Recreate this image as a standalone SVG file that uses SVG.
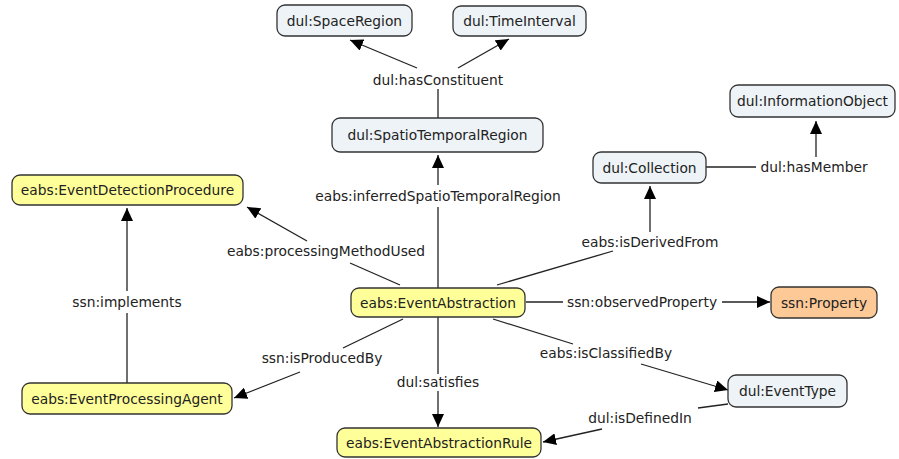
<svg xmlns="http://www.w3.org/2000/svg" width="899" height="459" viewBox="0 0 899 459">
  <style>
    text { font-family: "DejaVu Sans", Verdana, sans-serif; font-size: 13.8px; fill: #222; text-anchor: middle; dominant-baseline: central; }
    .node rect { stroke: #333; stroke-width: 1.3; }
    .eabs rect { fill: #ffff99; }
    .dul rect { fill: #edf3f6; }
    .prop rect { fill: #fdc997; }
    .edges line { stroke: #222; stroke-width: 1.3; }
    .edges line.arrow { marker-end: url(#head); }
  </style>
  <defs>
    <marker id="head" markerUnits="userSpaceOnUse" markerWidth="14" markerHeight="12" refX="13" refY="6" orient="auto">
      <path d="M0,0 L13,6 L0,12 Z" fill="#000"/>
    </marker>
  </defs>
  <rect width="899" height="459" fill="#ffffff"/>

  <!-- connectors and their labels -->
  <g id="connectors" class="edges">
    <!-- dul:hasConstituent -->
    <line x1="417" y1="68" x2="350" y2="40" class="arrow"/>
    <line x1="458" y1="68" x2="509" y2="39" class="arrow"/>
    <line x1="438" y1="89" x2="438" y2="118"/>
    <text x="438" y="80">dul:hasConstituent</text>
    <!-- eabs:inferredSpatioTemporalRegion -->
    <line x1="438" y1="288" x2="438" y2="207"/>
    <line x1="438" y1="185" x2="438" y2="155" class="arrow"/>
    <text x="438" y="196">eabs:inferredSpatioTemporalRegion</text>
    <!-- eabs:isDerivedFrom -->
    <line x1="497" y1="285" x2="613" y2="251"/>
    <line x1="650" y1="232" x2="650" y2="186" class="arrow"/>
    <text x="650" y="242">eabs:isDerivedFrom</text>
    <!-- dul:hasMember -->
    <line x1="706" y1="167" x2="756" y2="167"/>
    <line x1="816" y1="157" x2="816" y2="121" class="arrow"/>
    <text x="814" y="167">dul:hasMember</text>
    <!-- eabs:processingMethodUsed -->
    <line x1="400" y1="285" x2="350" y2="263"/>
    <line x1="307" y1="241" x2="247" y2="207" class="arrow"/>
    <text x="326" y="251">eabs:processingMethodUsed</text>
    <!-- ssn:implements -->
    <line x1="127" y1="383" x2="127" y2="313"/>
    <line x1="127" y1="291" x2="127" y2="208" class="arrow"/>
    <text x="127" y="302">ssn:implements</text>
    <!-- ssn:observedProperty -->
    <line x1="526" y1="302" x2="563" y2="302"/>
    <line x1="722" y1="302" x2="770" y2="302" class="arrow"/>
    <text x="642" y="302">ssn:observedProperty</text>
    <!-- ssn:isProducedBy -->
    <line x1="403" y1="319" x2="343" y2="348"/>
    <line x1="300" y1="372" x2="234" y2="398" class="arrow"/>
    <text x="322" y="358">ssn:isProducedBy</text>
    <!-- dul:satisfies -->
    <line x1="438" y1="317" x2="438" y2="374"/>
    <line x1="438" y1="391" x2="438" y2="427" class="arrow"/>
    <text x="438" y="382">dul:satisfies</text>
    <!-- eabs:isClassifiedBy -->
    <line x1="493" y1="319" x2="573" y2="344"/>
    <line x1="641" y1="364" x2="728" y2="390" class="arrow"/>
    <text x="606" y="353">eabs:isClassifiedBy</text>
    <!-- dul:isDefinedIn -->
    <line x1="728" y1="404" x2="698" y2="408"/>
    <line x1="602" y1="429" x2="543" y2="442" class="arrow"/>
    <text x="640" y="418">dul:isDefinedIn</text>
  </g>

  <!-- concept nodes -->
  <g id="dul-SpaceRegion" class="node dul">
    <rect x="277" y="5" width="135" height="31" rx="8"/>
    <text x="344.5" y="20.5">dul:SpaceRegion</text>
  </g>
  <g id="dul-TimeInterval" class="node dul">
    <rect x="453" y="6" width="133" height="30" rx="8"/>
    <text x="519.5" y="21">dul:TimeInterval</text>
  </g>
  <g id="dul-SpatioTemporalRegion" class="node dul">
    <rect x="332" y="118" width="211" height="34" rx="8"/>
    <text x="437.5" y="135">dul:SpatioTemporalRegion</text>
  </g>
  <g id="dul-InformationObject" class="node dul">
    <rect x="730" y="85" width="165" height="32" rx="8"/>
    <text x="812.5" y="101">dul:InformationObject</text>
  </g>
  <g id="dul-Collection" class="node dul">
    <rect x="593" y="152" width="113" height="31" rx="8"/>
    <text x="649.5" y="167.5">dul:Collection</text>
  </g>
  <g id="eabs-EventDetectionProcedure" class="node eabs">
    <rect x="12" y="175" width="231" height="30" rx="8"/>
    <text x="127.5" y="190">eabs:EventDetectionProcedure</text>
  </g>
  <g id="eabs-EventAbstraction" class="node eabs">
    <rect x="351" y="288" width="174" height="29" rx="8"/>
    <text x="438" y="302.5">eabs:EventAbstraction</text>
  </g>
  <g id="ssn-Property" class="node prop">
    <rect x="771" y="287" width="106" height="31" rx="8"/>
    <text x="824" y="302.5">ssn:Property</text>
  </g>
  <g id="eabs-EventProcessingAgent" class="node eabs">
    <rect x="22" y="383" width="210" height="31" rx="8"/>
    <text x="127" y="398.5">eabs:EventProcessingAgent</text>
  </g>
  <g id="dul-EventType" class="node dul">
    <rect x="728" y="375" width="119" height="32" rx="8"/>
    <text x="787.5" y="391">dul:EventType</text>
  </g>
  <g id="eabs-EventAbstractionRule" class="node eabs">
    <rect x="337" y="428" width="204" height="29" rx="8"/>
    <text x="439" y="442.5">eabs:EventAbstractionRule</text>
  </g>
</svg>
